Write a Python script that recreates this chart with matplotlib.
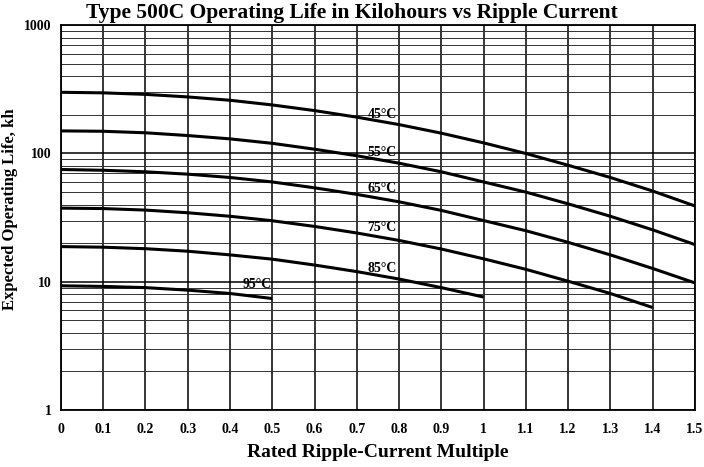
#!/usr/bin/env python
import numpy as np
import matplotlib.pyplot as plt
from matplotlib.ticker import FixedLocator, LogLocator, NullFormatter

# Expected life (kh) at each 0.1 step of ripple multiple
x_full = [0, 0.1, 0.2, 0.3, 0.4, 0.5, 0.6, 0.7, 0.8, 0.9, 1.0, 1.1, 1.2, 1.3, 1.4, 1.5]
life_45 = [300, 297, 289, 276, 260, 239, 216, 192, 168, 144, 121, 100, 81, 65, 51, 39]
life_55 = [150, 149, 145, 138, 130, 120, 108, 96, 84, 72, 60, 50, 40.5, 32.4, 25.4, 19.5]
life_65 = [75, 74, 72, 69, 65, 60, 54, 48, 42, 36, 30, 25, 20.3, 16.2, 12.7, 9.8]
life_75 = [37.5, 37.2, 36.2, 34.5, 32.4, 29.9, 27, 24, 21, 18, 15.1, 12.5, 10.1, 8.1, 6.3]
life_85 = [18.8, 18.6, 18.1, 17.3, 16.2, 15, 13.5, 12, 10.5, 9, 7.6]
life_95 = [9.3, 9.2, 9.0, 8.6, 8.1, 7.4]

series = [('45°C', life_45), ('55°C', life_55), ('65°C', life_65),
          ('75°C', life_75), ('85°C', life_85), ('95°C', life_95)]

# where the temperature labels sit (x, y)
label_pos = {'45°C': (0.795, 202), '55°C': (0.795, 101), '65°C': (0.795, 53.3),
             '75°C': (0.795, 26.3), '85°C': (0.795, 12.8), '95°C': (0.499, 9.5)}

x_ticks = [0, 0.1, 0.2, 0.3, 0.4, 0.5, 0.6, 0.7, 0.8, 0.9, 1, 1.1, 1.2, 1.3, 1.4, 1.5]
x_ticklabels = ['0', '0.1', '0.2', '0.3', '0.4', '0.5', '0.6', '0.7', '0.8', '0.9',
                '1', '1.1', '1.2', '1.3', '1.4', '1.5']
y_ticks = [1, 10, 100, 1000]
y_ticklabels = ['1', '10', '100', '1000']


def plot_life():
    plt.rcParams['font.family'] = ['Liberation Serif', 'DejaVu Serif']
    plt.rcParams['font.weight'] = 'bold'

    fig = plt.figure(figsize=(7.04, 4.67), dpi=100)
    ax = fig.add_axes([0.0866, 0.122, 0.9004, 0.824])

    for name, vals in series:
        ax.plot(x_full[:len(vals)], vals, color='black', lw=2.2,
                solid_capstyle='butt')
        tx, ty = label_pos[name]
        ax.text(tx, ty, name, ha='right', va='center', fontsize=10,
                fontweight='bold')

    ax.set_yscale('log')
    ax.set_xlim(0, 1.5)
    ax.set_ylim(1, 1000)

    ax.xaxis.set_major_locator(FixedLocator(x_ticks))
    ax.set_xticklabels(x_ticklabels, fontsize=10, fontweight='bold')
    ax.yaxis.set_major_locator(FixedLocator(y_ticks))
    ax.set_yticklabels(y_ticklabels, fontsize=10, fontweight='bold')
    ax.yaxis.set_minor_locator(LogLocator(base=10, subs=np.arange(2, 10)))
    ax.yaxis.set_minor_formatter(NullFormatter())
    ax.tick_params(which='both', length=0)
    ax.tick_params(axis='x', pad=9.5)
    ax.tick_params(axis='y', pad=6.5)

    ax.grid(True, which='major', axis='both', color='black', lw=1.1)
    ax.grid(True, which='minor', axis='y', color='#333333', lw=0.7)
    for sp in ax.spines.values():
        sp.set_linewidth(1.3)

    ax.set_xlabel('Rated Ripple-Current Multiple', fontsize=14,
                  fontweight='bold')
    ax.xaxis.set_label_coords(0.5, -0.088)
    ax.set_ylabel('Expected Operating Life, kh', fontsize=12,
                  fontweight='bold')
    ax.yaxis.set_label_coords(-0.068, 0.522)

    fig.text(0.5, 0.972, 'Type 500C Operating Life in Kilohours vs Ripple Current',
             fontsize=15.5, fontweight='bold', ha='center', va='center')

    plt.savefig('out.png', dpi=100)


if __name__ == "__main__":
    plot_life()
